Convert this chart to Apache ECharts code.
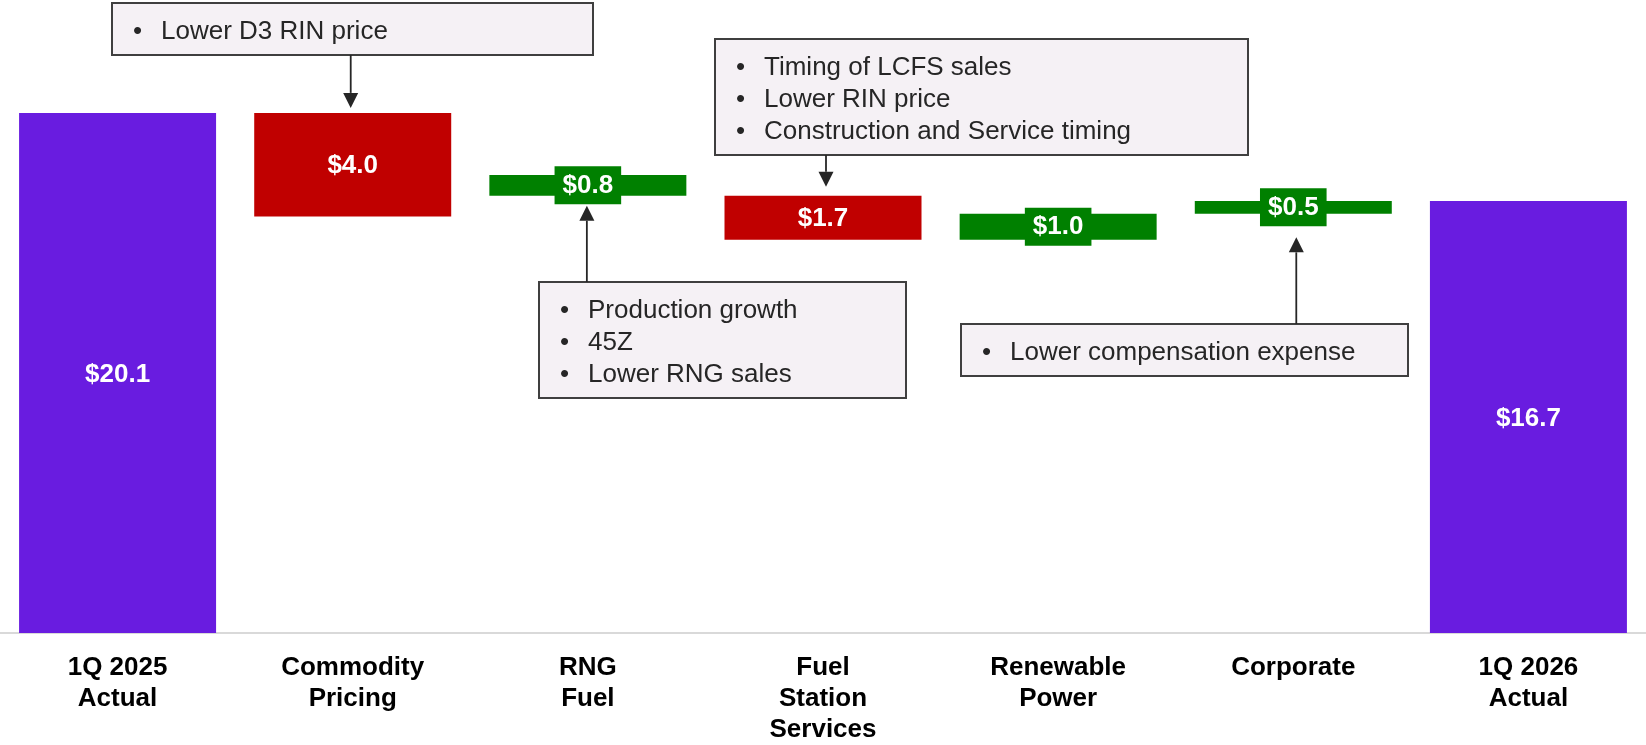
<!DOCTYPE html>
<html><head><meta charset="utf-8">
<script src="https://cdn.jsdelivr.net/npm/echarts@6/dist/echarts.min.js"></script>
<style>html,body{margin:0;padding:0;background:#fff}#c{width:1646px;height:745px}</style>
</head><body><div id="c"></div>
<script>
// ---- data ----
const categories = ['1Q 2025\nActual', 'Commodity\nPricing', 'RNG\nFuel', 'Fuel\nStation\nServices', 'Renewable\nPower', 'Corporate', '1Q 2026\nActual'];
const changeValues = [20.1, 4.0, 0.8, 1.7, 1.0, 0.5, 16.7];
const baseValues = [0, 16.1, 16.9, 15.2, 15.2, 16.2, 0];
const barKinds = ['total', 'decrease', 'increase', 'decrease', 'increase', 'increase', 'total'];
const valueLabels = ['$20.1', '$4.0', '$0.8', '$1.7', '$1.0', '$0.5', '$16.7'];
const noteCategories = [1, 3, 2, 5];
const noteTexts = [
  ['Lower D3 RIN price'],
  ['Timing of LCFS sales', 'Lower RIN price', 'Construction and Service timing'],
  ['Production growth', '45Z', 'Lower RNG sales'],
  ['Lower compensation expense']
];

// ---- styles / layout ----
const FONT = '"Liberation Sans", Arial, sans-serif';
const kindColor = { total: '#691CE0', decrease: '#C00000', increase: '#008000' };
const noteLayout = [
  { left: 112, top: 3, width: 481, dir: 'down', dx: -2, gap: 5 },
  { left: 715, top: 39, width: 533, dir: 'down', dx: 3, gap: 9 },
  { left: 539, top: 282, width: 367, dir: 'up', dx: -1, gap: 10 },
  { left: 961, top: 324, width: 447, dir: 'up', dx: 3, gap: 23.5 }
];

const chart = echarts.init(document.getElementById('c'), null, { renderer: 'canvas' });

const changeData = changeValues.map((v, i) => {
  const kind = barKinds[i];
  const lbl = {
    show: true, position: 'inside', formatter: valueLabels[i],
    color: '#fff', fontSize: 26, fontWeight: 'bold', fontFamily: FONT, lineHeight: 26,
    offset: [0, 1.5]
  };
  if (kind === 'increase') {
    lbl.backgroundColor = kindColor.increase;
    lbl.padding = [7, 8, 5, 8];
    lbl.offset = [0, 0];
  }
  return { value: v, itemStyle: { color: kindColor[kind] }, label: lbl };
});

chart.setOption({
  animation: false,
  textStyle: { fontFamily: FONT },
  grid: { left: 0, width: 1652, top: 12, height: 622, containLabel: false },
  xAxis: {
    type: 'category', data: categories,
    axisLine: { show: true, lineStyle: { color: '#D9D9D9', width: 2 } },
    axisTick: { show: false },
    axisLabel: {
      interval: 0, margin: 19, color: '#000', fontSize: 26, fontWeight: 'bold',
      fontFamily: FONT, lineHeight: 31, align: 'center'
    }
  },
  yAxis: { type: 'value', min: 0, max: 24, show: false, splitLine: { show: false } },
  series: [
    {
      type: 'bar', stack: 'wf', data: baseValues, barWidth: 197,
      itemStyle: { color: 'rgba(0,0,0,0)' }, silent: true, label: { show: false },
      emphasis: { disabled: true }
    },
    {
      type: 'bar', stack: 'wf', data: changeData, barWidth: 197,
      emphasis: { disabled: true }
    }
  ]
});

// ---- annotation boxes with arrows ----
const graphics = [];
noteLayout.forEach((L, k) => {
  const lines = noteTexts[k];
  const h = 52 + 32 * (lines.length - 1);
  graphics.push({
    type: 'rect', shape: { x: L.left, y: L.top, width: L.width, height: h },
    style: { fill: '#F5F1F5', stroke: '#3F3F3F', lineWidth: 2 }, z: 10
  });
  graphics.push({
    type: 'text', x: L.left + 21, y: L.top + 12.5, z: 11,
    style: { text: lines.map(() => '\u2022').join('\n'), fontSize: 26, fontFamily: FONT, fill: '#262626', lineHeight: 32, verticalAlign: 'top', align: 'left' }
  });
  graphics.push({
    type: 'text', x: L.left + 49, y: L.top + 12.5, z: 11,
    style: { text: lines.join('\n'), fontSize: 26, fontFamily: FONT, fill: '#262626', lineHeight: 32, verticalAlign: 'top', align: 'left' }
  });
  const c = noteCategories[k];
  const topPx = chart.convertToPixel({ gridIndex: 0 }, [c, baseValues[c] + changeValues[c]]);
  const botPx = chart.convertToPixel({ gridIndex: 0 }, [c, baseValues[c]]);
  const x = topPx[0] + L.dx;
  let y1, tip, head;
  if (L.dir === 'down') {
    y1 = L.top + h; tip = topPx[1] - L.gap; head = tip - 15;
  } else {
    y1 = L.top; tip = botPx[1] + L.gap; head = tip + 15;
  }
  graphics.push({
    type: 'line', shape: { x1: x, y1: y1, x2: x, y2: head },
    style: { stroke: '#262626', lineWidth: 1.8 }, z: 10
  });
  graphics.push({
    type: 'polygon', shape: { points: [[x - 7.5, head], [x + 7.5, head], [x, tip]] },
    style: { fill: '#262626' }, z: 10
  });
});
chart.setOption({ graphic: graphics });
</script>
</body></html>
